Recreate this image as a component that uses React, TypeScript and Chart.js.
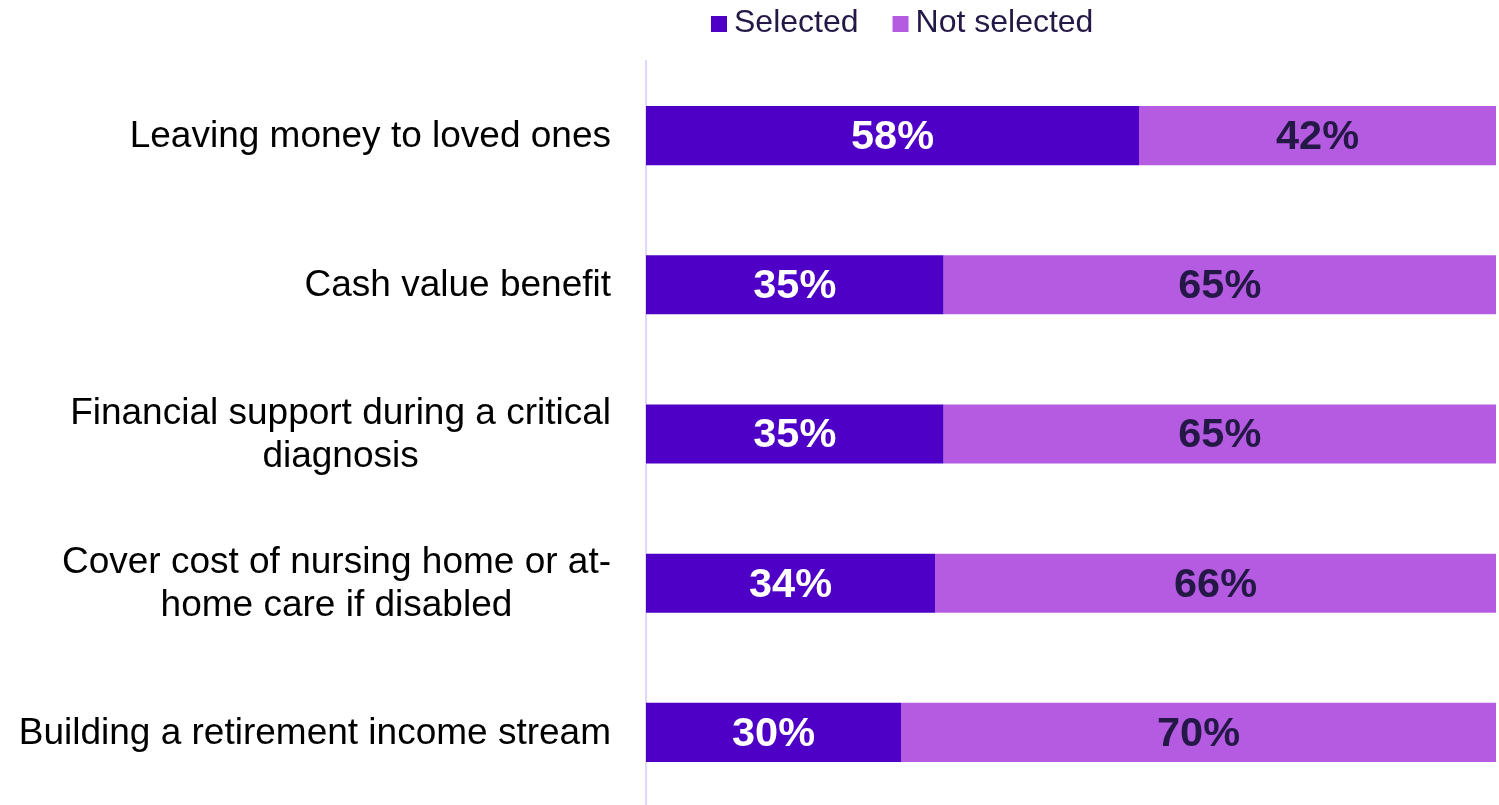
import React, { useEffect, useRef } from "react";
import { Chart, registerables } from "chart.js";

Chart.register(...registerables);

const categories: string[][] = [
  ["Leaving money to loved ones"],
  ["Cash value benefit"],
  ["Financial support during a critical", "diagnosis"],
  ["Cover cost of nursing home or at-", "home care if disabled"],
  ["Building a retirement income stream"],
];
const selected = [58, 35, 35, 34, 30];
const notSelected = [42, 65, 65, 66, 70];
const seriesNames = ["Selected", "Not selected"];
const seriesColors = ["#4f00c6", "#b55be2"];
const valueLabelColors = ["#ffffff", "#241846"];

const FONT = "'Liberation Sans', Arial, sans-serif";

const valueLabelsPlugin = {
  id: "valueLabels",
  afterDatasetsDraw(chart: any) {
    const ctx = chart.ctx;
    ctx.save();
    ctx.font = `bold 41.5px ${FONT}`;
    ctx.textAlign = "center";
    ctx.textBaseline = "middle";
    chart.data.datasets.forEach((ds: any, di: number) => {
      const meta = chart.getDatasetMeta(di);
      ctx.fillStyle = valueLabelColors[di];
      meta.data.forEach((el: any, i: number) => {
        const p = el.getProps(["x", "base", "y"], true);
        ctx.fillText(`${ds.data[i]}%`, (p.x + p.base) / 2, p.y + 2);
      });
    });
    ctx.restore();
  },
};

const categoryLabelsPlugin = {
  id: "categoryLabels",
  afterDraw(chart: any) {
    const ctx = chart.ctx;
    const scale = chart.scales.y;
    const right = chart.chartArea.left - 35;
    const lineH = 43;
    ctx.save();
    ctx.font = `37px ${FONT}`;
    ctx.fillStyle = "#000000";
    ctx.textAlign = "center";
    ctx.textBaseline = "middle";
    categories.forEach((lines, i) => {
      const y = scale.getPixelForValue(i);
      const maxW = Math.max(...lines.map((l) => ctx.measureText(l).width));
      const cx = right - maxW / 2;
      const startY = y - ((lines.length - 1) * lineH) / 2;
      lines.forEach((line, li) => {
        ctx.fillText(line, cx, startY + li * lineH + 1);
      });
    });
    ctx.restore();
  },
};

const legendPlugin = {
  id: "customLegend",
  afterDraw(chart: any) {
    const ctx = chart.ctx;
    ctx.save();
    ctx.font = `32px ${FONT}`;
    ctx.textAlign = "left";
    ctx.textBaseline = "alphabetic";
    let x = 711;
    seriesNames.forEach((name, i) => {
      ctx.fillStyle = seriesColors[i];
      ctx.fillRect(x, 16, 16, 16);
      ctx.fillStyle = "#241846";
      ctx.fillText(name, x + 23, 32);
      x += 23 + ctx.measureText(name).width + 34;
    });
    ctx.restore();
  },
};

export default function App() {
  const ref = useRef<HTMLCanvasElement | null>(null);
  useEffect(() => {
    if (!ref.current) return;
    const chart = new Chart(ref.current, {
      type: "bar",
      data: {
        labels: categories.map((c) => c.join(" ")),
        datasets: [
          {
            label: seriesNames[0],
            data: selected,
            backgroundColor: seriesColors[0],
            barPercentage: 0.396,
            categoryPercentage: 1,
          },
          {
            label: seriesNames[1],
            data: notSelected,
            backgroundColor: seriesColors[1],
            barPercentage: 0.396,
            categoryPercentage: 1,
          },
        ],
      },
      options: {
        indexAxis: "y",
        animation: false,
        responsive: false,
        maintainAspectRatio: false,
        layout: { padding: { top: 61, right: 3, bottom: 0, left: 0 } },
        scales: {
          x: { stacked: true, min: 0, max: 100, display: false },
          y: {
            stacked: true,
            display: true,
            ticks: { display: false },
            grid: { display: false },
            border: { display: true, color: "#e3d6ff", width: 2 },
            afterFit: (s: any) => {
              s.width = 646;
            },
          },
        },
        plugins: {
          legend: { display: false },
          tooltip: { enabled: false },
        },
      },
      plugins: [valueLabelsPlugin, categoryLabelsPlugin, legendPlugin],
    } as any);
    return () => chart.destroy();
  }, []);
  return (
    <div
      style={{
        position: "fixed",
        left: 0,
        top: 0,
        width: 1499,
        height: 805,
        overflow: "hidden",
        background: "#ffffff",
      }}
    >
      <canvas ref={ref} width={1499} height={807} style={{ display: "block" }} />
    </div>
  );
}
